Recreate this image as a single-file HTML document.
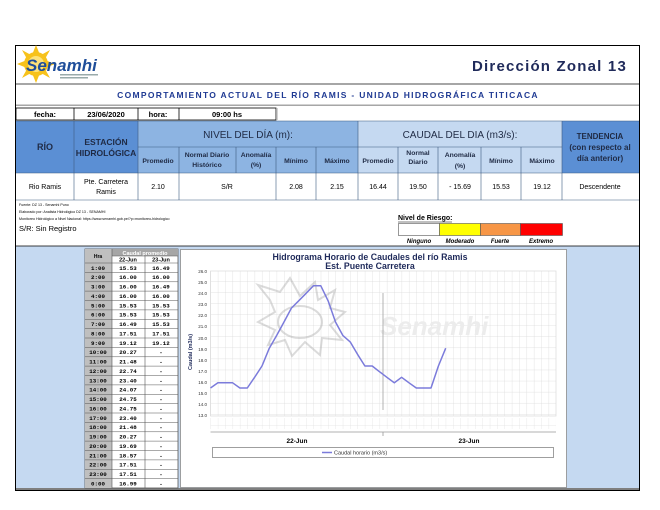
<!DOCTYPE html>
<html><head><meta charset="utf-8"><style>
html,body{margin:0;padding:0;background:#fff;}
svg{display:block;font-family:"Liberation Sans",sans-serif;}
.t{font-family:"Liberation Sans Narrow","Liberation Sans",sans-serif;}
</style></head><body>
<svg width="660" height="510" viewBox="0 0 660 510" xmlns="http://www.w3.org/2000/svg">
<defs>
<pattern id="g" x="210.5" y="270" width="7.35" height="11.08" patternUnits="userSpaceOnUse">
<path d="M0 0V11.08M0 0H7.35" stroke="#d9d9d9" stroke-width="0.7" fill="none"/>
</pattern>
</defs>
<rect width="660" height="510" fill="#fff"/>
<rect x="15.5" y="45.5" width="624" height="445" fill="#fff" stroke="#000" stroke-width="1"/>
<!-- logo -->
<g transform="translate(36,64)">
<circle r="12" fill="#f7c21b"/>
<g fill="#f7c21b">
<polygon points="0,-19 4,-9 -4,-9"/><polygon points="0,19 4,9 -4,9"/>
<polygon points="-19,0 -9,4 -9,-4"/><polygon points="19,0 9,4 9,-4"/>
<polygon points="-14,-14 -5,-9 -9,-5"/><polygon points="14,-14 5,-9 9,-5"/>
<polygon points="-14,14 -5,9 -9,5"/><polygon points="14,14 5,9 9,5"/>
</g>
<circle r="8" fill="#fde27a"/>
</g>
<text x="26" y="71" font-size="17" font-weight="bold" font-style="italic" fill="#1f4e9a">Senamhi</text>
<rect x="60" y="74" width="38" height="1.5" fill="#9aa"/><rect x="60" y="77" width="28" height="1.5" fill="#9aa"/>
<text x="627" y="71" text-anchor="end" font-size="15" font-weight="bold" fill="#1f2a5a" letter-spacing="1.2">Dirección Zonal 13</text>
<rect x="16" y="83" width="623" height="2" fill="#a6a6a6"/>
<text x="328" y="98" text-anchor="middle" font-size="8.5" font-weight="bold" fill="#1f3a93" letter-spacing="1.3">COMPORTAMIENTO ACTUAL DEL RÍO RAMIS - UNIDAD HIDROGRÁFICA  TITICACA</text>
<rect x="16" y="104.5" width="623" height="1.5" fill="#a6a6a6"/>
<g stroke="#000" stroke-width="0.8" fill="none">
<rect x="16" y="108" width="260" height="12"/>
<line x1="74" y1="108" x2="74" y2="120"/><line x1="138" y1="108" x2="138" y2="120"/><line x1="179" y1="108" x2="179" y2="120"/>
</g>
<rect x="276" y="108" width="1.5" height="12" fill="#a6a6a6"/>
<g class="t" font-size="7.5" font-weight="bold" text-anchor="middle">
<text x="45" y="117">fecha:</text><text x="106" y="117">23/06/2020</text><text x="158" y="117">hora:</text><text x="227" y="117">09:00 hs</text>
</g>
<rect x="16" y="121" width="122" height="52" fill="#5b8fd4"/>
<rect x="138" y="121" width="220" height="52" fill="#8db4e2"/>
<rect x="358" y="121" width="204" height="52" fill="#c5d9f1"/>
<rect x="562" y="121" width="77" height="52" fill="#5b8fd4"/>
<g stroke="#3d5a80" stroke-width="0.6">
<line x1="16" y1="121" x2="639" y2="121"/>
<line x1="16" y1="173" x2="639" y2="173"/>
<line x1="138" y1="147" x2="562" y2="147"/>
<line x1="74" y1="121" x2="74" y2="200"/><line x1="138" y1="121" x2="138" y2="200"/>
<line x1="358" y1="121" x2="358" y2="200"/><line x1="562" y1="121" x2="562" y2="200"/>
<line x1="179" y1="147" x2="179" y2="200"/><line x1="236" y1="147" x2="236" y2="173"/>
<line x1="276" y1="147" x2="276" y2="200"/><line x1="316" y1="147" x2="316" y2="200"/>
<line x1="398" y1="147" x2="398" y2="200"/><line x1="438" y1="147" x2="438" y2="200"/>
<line x1="481" y1="147" x2="481" y2="200"/><line x1="521" y1="147" x2="521" y2="200"/>
<line x1="16" y1="200" x2="639" y2="200"/>
</g>
<g class="t" font-weight="bold" fill="#1f2a44" text-anchor="middle">
<text x="45" y="150" font-size="9">RÍO</text>
<text x="106" y="145" font-size="8.5">ESTACIÓN</text><text x="106" y="156" font-size="8.5">HIDROLÓGICA</text>
<text x="248" y="138" font-size="10" font-weight="normal">NIVEL DEL DÍA (m):</text>
<text x="460" y="138" font-size="10" font-weight="normal">CAUDAL DEL DIA (m3/s):</text>
<text x="600" y="139" font-size="8">TENDENCIA</text><text x="600" y="150" font-size="8">(con respecto al</text><text x="600" y="161" font-size="8">día anterior)</text>
<g font-size="6.8">
<text x="158" y="163">Promedio</text>
<text x="207" y="157">Normal Diario</text><text x="207" y="167">Histórico</text>
<text x="256" y="157">Anomalía</text><text x="256" y="167">(%)</text>
<text x="296" y="163">Mínimo</text><text x="337" y="163">Máximo</text>
<text x="378" y="163">Promedio</text>
<text x="418" y="155">Normal</text><text x="418" y="164">Diario</text>
<text x="460" y="157">Anomalía</text><text x="460" y="168">(%)</text>
<text x="501" y="163">Mínimo</text><text x="542" y="163">Máximo</text>
</g>
</g>
<g class="t" font-size="7" text-anchor="middle" fill="#000">
<text x="45" y="189">Rio Ramis</text>
<text x="106" y="184">Pte. Carretera</text><text x="106" y="194">Ramis</text>
<text x="158" y="189">2.10</text><text x="227" y="189">S/R</text>
<text x="296" y="189">2.08</text><text x="337" y="189">2.15</text>
<text x="378" y="189">16.44</text><text x="418" y="189">19.50</text><text x="460" y="189">- 15.69</text>
<text x="501" y="189">15.53</text><text x="542" y="189">19.12</text>
<text x="600" y="189">Descendente</text>
</g>
<g class="t" font-size="3.6" fill="#000">
<text x="19" y="206">Fuente: DZ 13 - Senamhi Puno</text>
<text x="19" y="213">Elaborado por: Analista Hidrológico DZ 13 - SENAMHI</text>
<text x="19" y="220">Monitoreo Hidrológico a Nivel Nacional: https://www.senamhi.gob.pe/?p=monitoreo-hidrologico</text>
</g>
<text class="t" x="19" y="231" font-size="7.5">S/R: Sin Registro</text>
<text class="t" x="398" y="220" font-size="7" font-weight="bold">Nivel de Riesgo:</text>
<line x1="398" y1="222" x2="452" y2="222" stroke="#000" stroke-width="0.5"/>
<rect x="398.5" y="223.5" width="41" height="12" fill="#fff" stroke="#555" stroke-width="0.6"/>
<rect x="439.5" y="223.5" width="41" height="12" fill="#ffff00" stroke="#555" stroke-width="0.6"/>
<rect x="480.5" y="223.5" width="40" height="12" fill="#f79646" stroke="#555" stroke-width="0.6"/>
<rect x="520.5" y="223.5" width="42" height="12" fill="#ff0000" stroke="#555" stroke-width="0.6"/>
<g class="t" font-size="6" font-style="italic" font-weight="bold" text-anchor="middle">
<text x="419" y="243">Ninguno</text><text x="460" y="243">Moderado</text><text x="500" y="243">Fuerte</text><text x="541" y="243">Extremo</text>
</g>
<rect x="16" y="246" width="623" height="244" fill="#c5d9f1"/>
<line x1="16" y1="246" x2="639" y2="246" stroke="#000" stroke-width="0.8"/>
<rect x="16" y="488" width="623" height="2" fill="#7f7f7f"/>
<rect x="85" y="249" width="93" height="239" fill="#fff" stroke="#555" stroke-width="0.8"/>
<rect x="85" y="249" width="27" height="239" fill="#bfbfbf"/>
<rect x="112" y="249" width="66" height="7" fill="#a6a6a6"/>
<text x="145" y="255" font-size="5.5" fill="#fff" text-anchor="middle" font-weight="bold">Caudal promedio</text>
<text x="98" y="258" font-size="5" text-anchor="middle" font-weight="bold">Hra</text>
<g stroke="#555" stroke-width="0.6">
<line x1="112" y1="249" x2="112" y2="488"/><line x1="145" y1="256" x2="145" y2="488"/>
<line x1="112" y1="256" x2="178" y2="256"/><line x1="85" y1="263" x2="178" y2="263"/>
</g>
<g font-size="5.5" text-anchor="middle" font-weight="bold">
<text x="128" y="261.5">22-Jun</text><text x="161" y="261.5">23-Jun</text>
</g>
<g stroke="#555" stroke-width="0.5">
<line x1="85" y1="272.4" x2="178" y2="272.4"/><line x1="85" y1="281.8" x2="178" y2="281.8"/><line x1="85" y1="291.1" x2="178" y2="291.1"/><line x1="85" y1="300.5" x2="178" y2="300.5"/><line x1="85" y1="309.9" x2="178" y2="309.9"/><line x1="85" y1="319.3" x2="178" y2="319.3"/><line x1="85" y1="328.6" x2="178" y2="328.6"/><line x1="85" y1="338" x2="178" y2="338"/><line x1="85" y1="347.4" x2="178" y2="347.4"/><line x1="85" y1="356.8" x2="178" y2="356.8"/><line x1="85" y1="366.1" x2="178" y2="366.1"/><line x1="85" y1="375.5" x2="178" y2="375.5"/><line x1="85" y1="384.9" x2="178" y2="384.9"/><line x1="85" y1="394.3" x2="178" y2="394.3"/><line x1="85" y1="403.6" x2="178" y2="403.6"/><line x1="85" y1="413" x2="178" y2="413"/><line x1="85" y1="422.4" x2="178" y2="422.4"/><line x1="85" y1="431.8" x2="178" y2="431.8"/><line x1="85" y1="441.1" x2="178" y2="441.1"/><line x1="85" y1="450.5" x2="178" y2="450.5"/><line x1="85" y1="459.9" x2="178" y2="459.9"/><line x1="85" y1="469.3" x2="178" y2="469.3"/><line x1="85" y1="478.6" x2="178" y2="478.6"/>
</g>
<g font-size="5.8" font-weight="bold" text-anchor="middle" font-family="Liberation Mono,monospace">
<text x="98" y="269.8">1:00</text><text x="128" y="269.8">15.53</text><text x="161" y="269.8">16.49</text>
<text x="98" y="279.2">2:00</text><text x="128" y="279.2">16.00</text><text x="161" y="279.2">16.00</text>
<text x="98" y="288.6">3:00</text><text x="128" y="288.6">16.00</text><text x="161" y="288.6">16.49</text>
<text x="98" y="297.9">4:00</text><text x="128" y="297.9">16.00</text><text x="161" y="297.9">16.00</text>
<text x="98" y="307.3">5:00</text><text x="128" y="307.3">15.53</text><text x="161" y="307.3">15.53</text>
<text x="98" y="316.7">6:00</text><text x="128" y="316.7">15.53</text><text x="161" y="316.7">15.53</text>
<text x="98" y="326.1">7:00</text><text x="128" y="326.1">16.49</text><text x="161" y="326.1">15.53</text>
<text x="98" y="335.4">8:00</text><text x="128" y="335.4">17.51</text><text x="161" y="335.4">17.51</text>
<text x="98" y="344.8">9:00</text><text x="128" y="344.8">19.12</text><text x="161" y="344.8">19.12</text>
<text x="98" y="354.2">10:00</text><text x="128" y="354.2">20.27</text><text x="161" y="354.2">-</text>
<text x="98" y="363.6">11:00</text><text x="128" y="363.6">21.48</text><text x="161" y="363.6">-</text>
<text x="98" y="372.9">12:00</text><text x="128" y="372.9">22.74</text><text x="161" y="372.9">-</text>
<text x="98" y="382.3">13:00</text><text x="128" y="382.3">23.40</text><text x="161" y="382.3">-</text>
<text x="98" y="391.7">14:00</text><text x="128" y="391.7">24.07</text><text x="161" y="391.7">-</text>
<text x="98" y="401.1">15:00</text><text x="128" y="401.1">24.75</text><text x="161" y="401.1">-</text>
<text x="98" y="410.4">16:00</text><text x="128" y="410.4">24.75</text><text x="161" y="410.4">-</text>
<text x="98" y="419.8">17:00</text><text x="128" y="419.8">23.40</text><text x="161" y="419.8">-</text>
<text x="98" y="429.2">18:00</text><text x="128" y="429.2">21.48</text><text x="161" y="429.2">-</text>
<text x="98" y="438.6">19:00</text><text x="128" y="438.6">20.27</text><text x="161" y="438.6">-</text>
<text x="98" y="447.9">20:00</text><text x="128" y="447.9">19.69</text><text x="161" y="447.9">-</text>
<text x="98" y="457.3">21:00</text><text x="128" y="457.3">18.57</text><text x="161" y="457.3">-</text>
<text x="98" y="466.7">22:00</text><text x="128" y="466.7">17.51</text><text x="161" y="466.7">-</text>
<text x="98" y="476.1">23:00</text><text x="128" y="476.1">17.51</text><text x="161" y="476.1">-</text>
<text x="98" y="485.4">0:00</text><text x="128" y="485.4">16.99</text><text x="161" y="485.4">-</text>
</g>
<rect x="180.5" y="249.5" width="386" height="238" fill="#fff" stroke="#8a8a8a" stroke-width="0.8"/>
<text x="370" y="260" font-size="8.8" font-weight="bold" fill="#1f2a5a" text-anchor="middle">Hidrograma Horario de Caudales del río Ramis</text>
<text x="370" y="269" font-size="8.8" font-weight="bold" fill="#1f2a5a" text-anchor="middle">Est. Puente Carretera</text>
<rect x="210.5" y="271" width="345.5" height="145" fill="url(#g)"/>
<rect x="210.5" y="271" width="345.5" height="145" fill="none" stroke="#d9d9d9" stroke-width="0.7"/>
<g opacity="0.35" fill="none" stroke="#999" stroke-width="2">
<ellipse cx="300" cy="322" rx="22" ry="16"/>
<path d="M270 300 L258 285 L280 292 L290 278 L300 296 L315 282 L318 300 L335 290 L330 308 L345 312 L330 325 L342 340 L322 338 L320 355 L305 342 L292 356 L285 340 L268 345 L275 330 L258 322 L275 312 Z"/>
</g>
<text x="380" y="335" font-size="26" font-weight="bold" font-style="italic" fill="#ececec">Senamhi</text>
<line x1="383" y1="293" x2="383" y2="410" stroke="#a0a0a0" stroke-width="0.8"/>
<g font-size="4.5" fill="#333" text-anchor="end">
<text x="207" y="273">26.0</text><text x="207" y="284">25.0</text><text x="207" y="295">24.0</text><text x="207" y="306">23.0</text><text x="207" y="317">22.0</text><text x="207" y="328">21.0</text><text x="207" y="340">20.0</text><text x="207" y="351">19.0</text><text x="207" y="362">18.0</text><text x="207" y="373">17.0</text><text x="207" y="384">16.0</text><text x="207" y="395">15.0</text><text x="207" y="406">14.0</text><text x="207" y="417">13.0</text>
</g>
<text transform="translate(192,352) rotate(-90)" font-size="5.5" font-weight="bold" fill="#1f2a5a" text-anchor="middle">Caudal (m3/s)</text>
<rect x="210.5" y="418" width="345.5" height="11" fill="url(#g)" opacity="0.8"/>
<line x1="210.5" y1="432" x2="556" y2="432" stroke="#999" stroke-width="0.8"/>
<line x1="383" y1="432" x2="383" y2="436" stroke="#999" stroke-width="0.8"/>
<text x="297" y="443" font-size="6.5" font-weight="bold" text-anchor="middle">22-Jun</text>
<text x="469" y="443" font-size="6.5" font-weight="bold" text-anchor="middle">23-Jun</text>
<rect x="212.5" y="447.5" width="341" height="10" fill="#fff" stroke="#777" stroke-width="0.7"/>
<line x1="322" y1="452.5" x2="332" y2="452.5" stroke="#7b7bdb" stroke-width="1.5"/>
<text x="334" y="454.5" font-size="5.5" fill="#333">Caudal horario (m3/s)</text>
<polyline fill="none" stroke="#7b7bdb" stroke-width="1.5" stroke-linejoin="round" points="210.5,388 217.9,382.8 225.2,382.8 232.6,382.8 239.9,388 247.3,388 254.6,377.3 262,366 269.3,348.2 276.7,335.4 284,322 291.4,308.1 298.7,300.8 306.1,293.3 313.4,285.8 320.8,285.8 328.1,300.8 335.5,322 342.8,335.4 350.2,341.9 357.5,354.3 364.9,366 372.2,366 379.6,371.8 386.9,377.3 394.3,382.8 401.6,377.3 409,382.8 416.3,388 423.7,388 431,388 438.4,366 445.7,348.2"/>
</svg>
</body></html>
